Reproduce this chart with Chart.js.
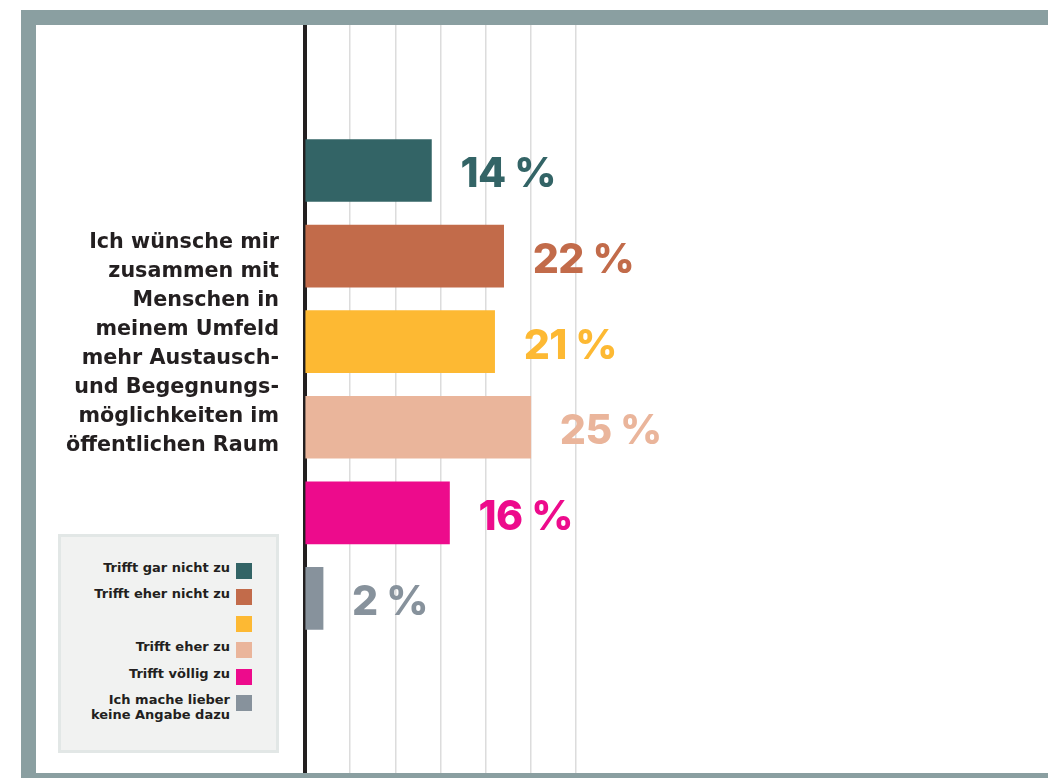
<!DOCTYPE html>
<html lang="de">
<head>
<meta charset="utf-8">
<title>Austausch- und Begegnungsmöglichkeiten</title>
<script src="https://cdn.jsdelivr.net/npm/chart.js@4/dist/chart.umd.min.js"></script>
<style>
  html, body {
    margin: 0;
    width: 1048px;
    height: 778px;
    overflow: hidden;
    background: #fff;
    font-family: 'DejaVu Sans', sans-serif;
    color: #231f20;
  }
  #frame {
    position: absolute;
    left: 21px;
    top: 10px;
    width: 1200px;
    height: 748px;
    border-top: 15px solid #8a9fa1;
    border-left: 15px solid #8a9fa1;
    border-bottom: 5px solid #8a9fa1;
  }
  #chartBox {
    position: absolute;
    left: 36px;
    top: 25px;
    width: 1172px;
    height: 748px;
  }
  #question {
    position: absolute;
    right: 769px;
    top: 227px;
    text-align: right;
    font-size: 20.7px;
    font-weight: 700;
    line-height: 29px;
    white-space: nowrap;
  }
  #legend {
    position: absolute;
    left: 58px;
    top: 534px;
    width: 215px;
    height: 213px;
    background: #f1f2f1;
    border: 3px solid #e2e7e6;
  }
  #legend .item {
    position: absolute;
    right: 24px;
    display: flex;
    align-items: flex-start;
    justify-content: flex-end;
  }
  #legend .text {
    position: relative;
    top: -3px;
    text-align: right;
    font-size: 13px;
    font-weight: 700;
    line-height: 15px;
    white-space: nowrap;
  }
  #legend .box {
    width: 16px;
    height: 16px;
    margin-left: 6px;
    flex: none;
  }
</style>
</head>
<body>
<div id="frame"></div>
<div id="chartBox"><canvas id="barChart"></canvas></div>
<div id="question">Ich wünsche mir<br>zusammen mit<br>Menschen in<br>meinem Umfeld<br>mehr Austausch-<br>und Begegnungs-<br>möglichkeiten im<br>öffentlichen Raum</div>
<div id="legend"></div>

<script>
// answers (the third one has no label in the legend)
const answers = [
  'Trifft gar nicht zu',
  'Trifft eher nicht zu',
  '',
  'Trifft eher zu',
  'Trifft völlig zu',
  'Ich mache lieber<br>keine Angabe dazu',
];
// share of answers in %
const values = [14, 22, 21, 25, 16, 2];
const barColors = ['#336466', '#c26b4a', '#fdb933', '#eab59b', '#ed0b8c', '#87929c'];
// light grid lines only up to this value
const gridLimit = 30;

// legend
const legend = document.getElementById('legend');
answers.forEach((answer, i) => {
  const item = document.createElement('div');
  item.className = 'item';
  item.style.top = (26 + i * 26.4) + 'px';
  item.innerHTML = `<span class="text">${answer}</span><span class="box" style="background:${barColors[i]}"></span>`;
  legend.appendChild(item);
});

// value labels next to the bars
const valueLabels = {
  id: 'valueLabels',
  afterDatasetsDraw(chart) {
    const ctx = chart.ctx;
    const meta = chart.getDatasetMeta(0);
    ctx.save();
    ctx.font = '800 41px Inter';
    ctx.letterSpacing = '-0.5px';
    ctx.textBaseline = 'alphabetic';
    meta.data.forEach((bar, i) => {
      ctx.fillStyle = barColors[i];
      ctx.fillText(values[i] + ' %', bar.x + 29, bar.y + 17);
    });
    ctx.restore();
  },
};

const barData = {
  datasets: [
    {
      data: values.map((v, i) => ({ x: v, y: i })),
      backgroundColor: barColors,
      borderWidth: 0,
      barThickness: 62,
    },
  ],
};

const barConfig = {
  type: 'bar',
  data: barData,
  options: {
    indexAxis: 'y',
    responsive: true,
    maintainAspectRatio: false,
    animation: false,
    layout: { padding: { left: 269, right: 0, top: 0, bottom: 0 } },
    plugins: {
      legend: { display: false },
      tooltip: { enabled: false },
    },
    scales: {
      x: {
        type: 'linear',
        min: 0,
        max: 100,
        ticks: { display: false, stepSize: 5 },
        border: { display: false },
        grid: {
          drawTicks: false,
          lineWidth: 1.5,
          color: (c) =>
            c.tick && c.tick.value > 0 && c.tick.value <= gridLimit ? '#dcdcdc' : 'rgba(0,0,0,0)',
        },
      },
      y: {
        type: 'linear',
        reverse: true,
        offset: false,
        min: -1.7,
        max: 7.04,
        z: 1,
        ticks: { display: false },
        grid: { display: false, drawTicks: false },
        border: { display: true, color: '#231f20', width: 4 },
      },
    },
  },
  plugins: [valueLabels],
};

const barChart = new Chart(document.getElementById('barChart'), barConfig);
</script>
</body>
</html>
